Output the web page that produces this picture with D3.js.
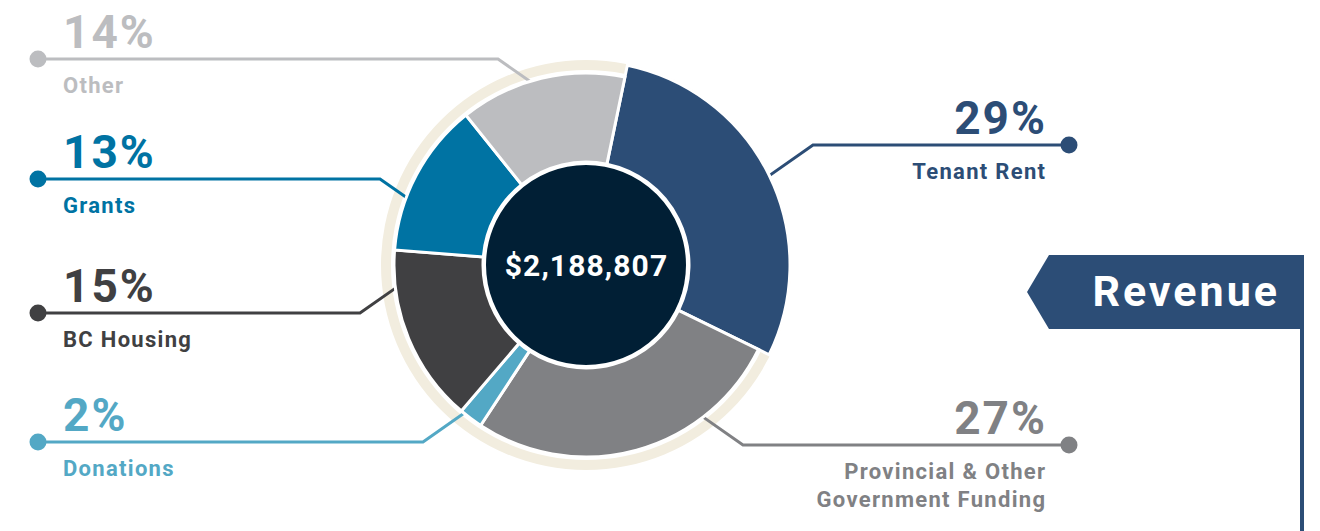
<!DOCTYPE html>
<html>
<head>
<meta charset="utf-8">
<script src="https://cdn.jsdelivr.net/npm/d3@7"></script>
<style>
  body { margin: 0; background: #fff; }
  svg { display: block; font-family: Roboto, "Noto Sans", sans-serif; font-weight: 700; }
</style>
</head>
<body>
<svg></svg>
<script>
var width = 1320;
var height = 531;

// data, clockwise from the top
var categories = ["Tenant Rent", "Provincial & Other|Government Funding", "Donations", "BC Housing", "Grants", "Other"];
var shares = [29, 27, 2, 15, 13, 14];
var colors = ["#2c4d76", "#808184", "#53a8c5", "#404042", "#0073a3", "#bcbdc0"];
var totalRevenue = 2188807;
var title = "Revenue";

// label layout: side, y of the dot, x where the leader bends
var labelSide = ["right", "right", "left", "left", "left", "left"];
var labelDotY = [145, 445, 442, 313, 179, 59];
var labelElbowX = [813, 743, 423, 360, 380, 498];

var cx = 586, cy = 265;
var innerR = 103, outerR = 192, bigR = 204;
var startDeg = 11.7;

var svg = d3.select("svg").attr("width", width).attr("height", height);

var rows = categories.map(function(c, i){
  return {name: c, share: shares[i], color: colors[i], side: labelSide[i], dotY: labelDotY[i], elbowX: labelElbowX[i]};
});

// beige backing ring
svg.append("path")
  .attr("transform", "translate(" + cx + "," + cy + ")")
  .attr("d", d3.arc().innerRadius(195).outerRadius(205).startAngle(0).endAngle(2 * Math.PI)())
  .attr("fill", "#f2eddf");

// leader lines
var slope = 35 * Math.PI / 180;
rows.forEach(function(d){
  var dotX = d.side == "left" ? 38 : 1069;
  var ex = d.elbowX, ey = d.dotY;
  var dx = (ex < cx ? 1 : -1) * Math.cos(slope);
  var dy = (ey < cy ? 1 : -1) * Math.sin(slope);
  // walk along the diagonal until inside the donut
  var ox = ex - cx, oy = ey - cy, r = 185;
  var b = ox * dx + oy * dy, c = ox * ox + oy * oy - r * r;
  var t = -b - Math.sqrt(Math.max(0, b * b - c));
  var line = d3.line();
  svg.append("path")
    .attr("d", line([[dotX, ey], [ex, ey], [ex + t * dx, ey + t * dy]]))
    .attr("fill", "none")
    .attr("stroke", d.color)
    .attr("stroke-width", 3);
  svg.append("circle")
    .attr("cx", dotX).attr("cy", ey).attr("r", 8.5)
    .attr("fill", d.color);
});

// donut
var pie = d3.pie().sort(null).value(function(d){ return d.share; })
  .startAngle(startDeg * Math.PI / 180)
  .endAngle((startDeg + 360) * Math.PI / 180);
var arc = d3.arc().innerRadius(innerR).outerRadius(function(d){
  return d.index == 0 ? bigR : outerR;
});

var donut = svg.append("g").attr("transform", "translate(" + cx + "," + cy + ")");
donut.selectAll("path").data(pie(rows))
  .enter()
  .append("path")
  .attr("d", arc)
  .attr("fill", function(d){ return d.data.color; })
  .attr("stroke", "#fff")
  .attr("stroke-width", 3)
  .attr("stroke-linejoin", "miter");

donut.append("circle")
  .attr("r", innerR - 1.5)
  .attr("fill", "#011f35")
  .attr("stroke", "#fff")
  .attr("stroke-width", 3);

donut.append("text")
  .attr("text-anchor", "middle")
  .attr("x", 0.5)
  .attr("dy", "0.35em")
  .attr("fill", "#fff")
  .attr("font-size", 30)
  .attr("letter-spacing", 1.1)
  .text(d3.format("$,")(totalRevenue));

// labels (end-anchored text gets its trailing letter spacing back)
rows.forEach(function(d){
  var left = d.side == "left";
  var tx = left ? 63 : 1045;
  var anchor = left ? "start" : "end";
  svg.append("text")
    .attr("x", left ? tx : tx + 2).attr("y", d.dotY - 11)
    .attr("text-anchor", anchor)
    .attr("font-size", 46)
    .attr("letter-spacing", 2)
    .attr("fill", d.color)
    .text(d.share + "%");
  d.name.split("|").forEach(function(s, j){
    svg.append("text")
      .attr("x", left ? tx : tx + 1.3).attr("y", d.dotY + 34 + j * 28)
      .attr("text-anchor", anchor)
      .attr("font-size", 22)
      .attr("letter-spacing", 1.3)
      .attr("fill", d.color)
      .text(s);
  });
});

// Revenue banner
var bannerTop = 255, bannerBot = 329, bannerRight = 1304;
var bannerPts = [[1027, (bannerTop + bannerBot) / 2], [1049, bannerTop], [bannerRight, bannerTop], [bannerRight, bannerBot], [1049, bannerBot]];
svg.append("path")
  .attr("d", d3.line()(bannerPts) + "Z")
  .attr("fill", "#2c4d76");
svg.append("line")
  .attr("x1", bannerRight - 2).attr("x2", bannerRight - 2)
  .attr("y1", bannerBot - 1).attr("y2", height)
  .attr("stroke", "#2c4d76")
  .attr("stroke-width", 4);
svg.append("text")
  .attr("x", 1280).attr("y", 306)
  .attr("text-anchor", "end")
  .attr("font-size", 43)
  .attr("letter-spacing", 3)
  .attr("fill", "#fff")
  .text(title);
</script>
</body>
</html>
